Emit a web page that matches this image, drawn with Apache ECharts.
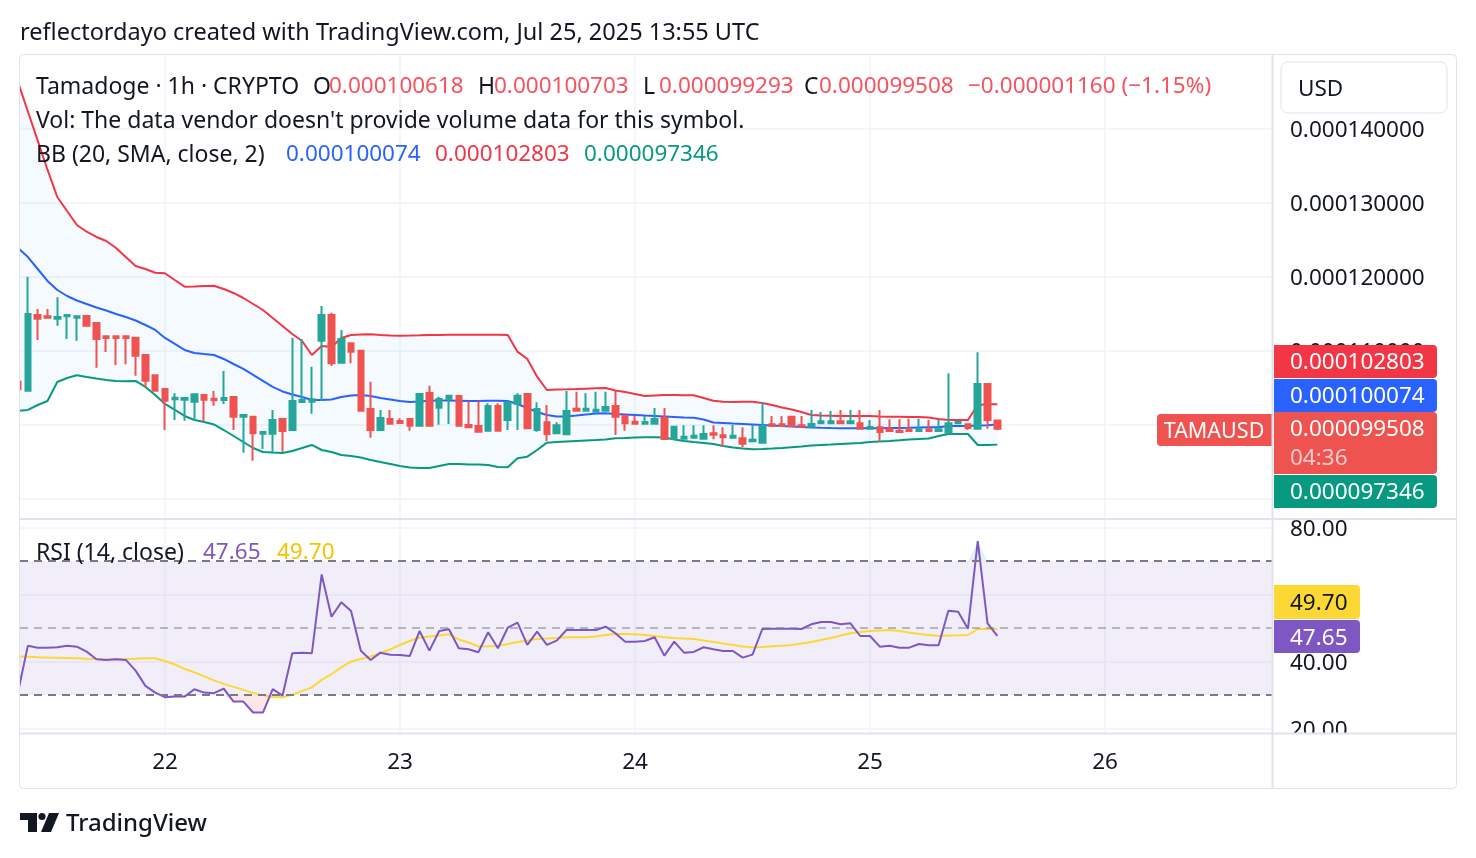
<!DOCTYPE html>
<html>
<head>
<meta charset="utf-8">
<title>TAMAUSD 1h</title>
<script src="https://cdn.jsdelivr.net/npm/echarts@6/dist/echarts.min.js"></script>
<style>
  html, body { margin: 0; padding: 0; background: #fff; }
  #chart { width: 1476px; height: 858px; }
</style>
</head>
<body>
<div id="chart"></div>
<script>
// one candle per hour, hour 0 = Jul 21 00:00 UTC; prices are in millionths of a USD
const firstHour = 9;

// [open, close, low, high]
const candles = [
  [105.85, 104.82, 104.82, 105.85], [104.64, 115.00, 104.64, 120.04], [114.86, 114.36, 111.49, 115.68],
  [114.69, 114.50, 114.50, 115.68], [114.36, 114.59, 113.42, 117.26], [114.69, 114.86, 111.62, 114.86],
  [114.50, 114.69, 111.39, 114.69], [114.73, 113.42, 113.42, 114.73], [113.78, 111.62, 107.74, 113.78],
  [111.99, 111.76, 109.86, 111.99], [111.99, 111.76, 108.11, 111.99], [111.99, 111.76, 108.20, 111.99],
  [111.80, 109.36, 106.66, 111.93], [109.46, 105.99, 105.18, 109.59], [106.72, 104.64, 104.64, 106.72],
  [104.86, 103.28, 99.32, 104.86], [103.47, 103.69, 100.68, 104.28], [103.42, 103.65, 100.58, 103.65],
  [103.15, 104.15, 100.58, 104.15], [104.05, 103.42, 100.45, 104.19], [103.55, 103.34, 102.61, 104.59],
  [103.38, 103.65, 102.84, 107.30], [103.78, 101.12, 99.32, 103.78], [101.12, 101.35, 96.26, 101.35],
  [101.12, 98.88, 95.18, 101.26], [98.82, 99.05, 96.76, 99.05], [98.82, 100.68, 96.39, 102.03],
  [100.81, 99.19, 96.39, 100.99], [99.32, 103.24, 99.23, 111.80], [103.11, 103.38, 103.11, 111.62],
  [103.15, 103.47, 101.53, 107.88], [111.39, 114.86, 103.24, 116.08], [114.86, 108.34, 107.97, 115.18],
  [108.42, 111.62, 108.42, 112.84], [111.04, 109.91, 108.34, 111.04], [110.04, 101.93, 101.93, 110.04],
  [102.16, 99.32, 98.28, 105.85], [99.32, 100.95, 99.32, 102.03], [100.81, 100.18, 100.18, 102.03],
  [100.54, 100.27, 100.27, 100.91], [100.81, 99.91, 99.23, 100.81], [99.91, 104.19, 99.91, 104.19],
  [104.32, 99.91, 99.91, 105.31], [102.34, 103.51, 100.04, 103.82], [103.55, 103.96, 100.14, 103.96],
  [103.92, 99.91, 99.91, 103.92], [100.00, 99.69, 99.69, 103.24], [99.86, 99.09, 99.09, 103.28],
  [99.23, 102.57, 99.23, 102.93], [102.57, 99.23, 99.23, 102.93], [100.68, 103.01, 99.32, 103.24],
  [102.88, 103.96, 99.32, 104.28], [104.19, 99.55, 99.55, 104.19], [99.32, 102.16, 99.09, 103.07],
  [100.36, 98.78, 97.84, 102.70], [98.88, 99.96, 98.78, 100.36], [98.74, 101.89, 98.74, 104.59],
  [102.20, 101.93, 101.93, 104.50], [101.93, 102.20, 101.93, 104.28], [101.80, 102.07, 101.80, 104.50],
  [101.93, 102.43, 101.93, 104.50], [102.57, 101.12, 98.65, 104.59], [101.26, 100.23, 99.23, 101.26],
  [100.45, 100.18, 100.18, 101.26], [100.18, 100.41, 100.18, 101.22], [100.18, 100.81, 100.18, 102.30],
  [100.99, 98.11, 98.11, 102.30], [98.11, 99.77, 98.11, 99.77], [98.15, 98.42, 98.15, 99.96],
  [98.28, 98.55, 98.28, 99.96], [98.15, 98.78, 98.15, 99.96], [98.88, 98.69, 98.07, 99.96],
  [98.61, 98.34, 97.07, 99.69], [98.28, 98.55, 98.28, 100.00], [98.20, 97.47, 96.99, 99.69],
  [97.80, 98.01, 97.80, 100.00], [97.61, 99.86, 97.61, 103.11], [100.09, 99.86, 99.86, 101.22],
  [100.09, 99.86, 99.86, 101.22], [101.12, 99.86, 99.86, 101.22], [99.96, 99.77, 99.77, 101.22],
  [99.77, 100.14, 99.77, 102.03], [100.23, 100.50, 100.23, 101.76], [100.23, 100.50, 100.23, 101.89],
  [100.50, 100.23, 100.23, 102.03], [100.23, 100.50, 100.23, 102.03], [100.23, 99.50, 99.50, 102.03],
  [99.50, 99.73, 99.50, 100.68], [99.69, 99.05, 97.74, 102.03], [99.42, 99.19, 99.19, 100.77],
  [99.23, 99.05, 99.05, 100.77], [99.42, 99.19, 99.19, 100.85], [99.19, 99.42, 99.19, 100.85],
  [99.42, 99.19, 99.19, 100.68], [99.19, 99.42, 99.19, 100.68], [98.96, 100.23, 98.96, 106.99],
  [100.23, 100.41, 100.23, 100.41], [100.09, 99.59, 99.32, 100.23], [99.50, 105.54, 99.50, 109.82],
  [105.54, 100.668, 99.50, 105.54], [100.618, 99.508, 99.293, 100.703]
];

const bbUpper = [
  146.30, 142.36, 138.43, 134.50, 130.81, 128.92, 127.03, 126.12, 125.41, 124.86, 123.92, 122.70,
  121.49, 121.08, 120.58, 120.50, 119.59, 118.69, 118.72, 118.78, 118.82, 118.38, 117.84, 117.16,
  116.35, 115.54, 114.46, 113.38, 112.30, 111.35, 109.46, 110.68, 110.54, 111.76, 112.16,
  112.23, 112.26, 112.16, 112.09, 112.07, 112.09, 112.12, 112.16, 112.16, 112.19, 112.19, 112.20,
  112.20, 112.20, 112.19, 112.16,
  109.91, 108.92, 106.53, 104.73, 104.80, 104.82, 104.86, 104.91, 104.96, 105.00, 104.66, 104.46,
  104.19, 103.92, 103.99, 104.05, 104.05, 104.01, 104.01, 103.65, 103.28, 103.15, 103.11, 103.14,
  103.15, 102.97, 102.70, 102.36, 102.09, 101.76, 101.35, 101.28, 101.26, 101.22, 101.22, 101.22,
  101.22, 101.15, 101.12, 101.11, 101.08, 101.08, 101.01, 100.81, 100.68, 100.68, 100.68, 102.70,
  102.80, 102.803
];
const bbBasis = [
  123.92, 122.70, 121.08, 119.46, 118.24, 117.43, 116.82, 116.35, 115.88, 115.47, 115.00, 114.59,
  114.12, 113.51, 112.84, 111.76, 110.95, 110.14, 109.73, 109.59, 109.46, 108.92, 108.24, 107.57,
  106.76, 105.95, 105.14, 104.53, 104.12, 103.78, 103.38, 103.38, 103.45, 103.78, 103.99,
  104.05, 103.92, 103.65, 103.45, 103.24, 103.11, 103.18, 103.28, 103.31, 103.31, 103.28, 103.24,
  103.24, 103.27, 103.27, 103.24,
  102.84, 102.30, 101.76, 101.35, 101.15, 101.15, 101.28, 101.42, 101.55, 101.58, 101.49, 101.42,
  101.35, 101.28, 101.22, 101.15, 101.08, 101.01, 100.99, 100.74, 100.34, 100.27, 100.20, 100.14,
  100.07, 100.00, 99.93, 99.86, 99.80, 99.73, 99.66, 99.62, 99.59, 99.57, 99.55, 99.55,
  99.55, 99.57, 99.59, 99.59, 99.62, 99.66, 99.69, 99.69, 99.86, 99.86, 99.86, 99.93,
  99.96, 100.074
];
const bbLower = [
  101.93, 102.03, 102.70, 103.24, 105.81, 106.35, 106.72, 106.49, 106.28, 106.08, 105.95, 105.91,
  105.95, 105.14, 104.05, 102.84, 102.03, 101.22, 100.68, 100.41, 100.07, 99.32, 98.51, 97.70,
  96.89, 96.35, 96.28, 96.22, 96.49, 96.89, 97.30, 96.62, 96.35, 95.95, 95.81,
  95.61, 95.27, 95.00, 94.73, 94.46, 94.26, 94.19, 94.19, 94.46, 94.73, 94.73, 94.66,
  94.66, 94.59, 94.32, 94.28,
  95.50, 95.72, 96.62, 97.61, 97.70, 97.77, 97.84, 97.91, 97.97, 98.04, 98.20, 98.24,
  98.31, 98.34, 98.34, 98.31, 98.04, 97.84, 97.70, 97.57, 97.43, 97.16, 96.96, 96.82,
  96.72, 96.76, 96.82, 96.89, 96.99, 97.09, 97.23, 97.30, 97.36, 97.43, 97.50, 97.57,
  97.70, 97.77, 97.84, 97.93, 98.04, 98.11, 98.18, 98.51, 98.78, 98.78, 98.78, 97.30,
  97.30, 97.346
];

const rsi = [
  31.00, 44.72, 44.12, 44.12, 44.24, 44.72, 44.42, 42.93, 40.66, 40.45, 40.66, 40.45,
  37.25, 32.69, 30.69, 29.31, 29.49, 29.49, 31.70, 30.69, 30.51, 31.88, 28.00, 28.00,
  24.72, 24.72, 31.70, 29.79, 42.45, 42.63, 42.45, 66.03, 53.37, 57.67, 55.07,
  43.22, 40.45, 42.63, 42.03, 41.94, 41.64, 49.10, 43.22, 49.10, 49.61, 43.94, 43.64,
  42.75, 48.72, 43.94, 50.09,
  51.58, 44.93, 48.90, 44.93, 46.21, 49.40, 49.40, 49.40, 49.40, 50.39, 48.42, 45.91,
  45.91, 46.12, 47.22, 41.73, 45.91, 42.63, 42.84, 44.24, 43.64, 43.13, 43.13, 41.13,
  42.03, 49.70, 49.79, 49.79, 49.79, 49.70, 51.10, 51.79, 51.79, 51.10, 51.40, 47.61,
  47.61, 44.42, 44.72, 44.12, 44.12, 45.22, 44.84, 44.84, 55.16, 54.87, 49.79, 75.97,
  51.40, 47.65
];
const rsiMa = [
  41.49, 41.40, 41.28, 41.19, 41.13, 41.04, 40.96, 40.84, 40.75, 40.69, 40.66, 40.75,
  40.84, 40.96, 40.96, 40.15, 39.10, 37.76, 36.72, 35.52, 34.33, 33.28, 32.39, 31.49,
  30.60, 29.85, 29.40, 29.31, 30.00, 31.19, 32.24, 34.48, 36.18, 38.21, 40.00,
  40.75, 41.49, 42.54, 43.58, 44.93, 46.12, 47.16, 47.46, 47.76, 48.12, 46.57, 45.67,
  44.48, 44.54, 44.63, 45.22,
  45.82, 46.27, 46.72, 46.87, 47.01, 47.22, 47.22, 47.22, 47.46, 47.91, 48.21, 48.21,
  48.12, 47.91, 47.61, 47.25, 47.01, 46.87, 46.72, 46.27, 45.82, 45.37, 44.93, 44.48,
  44.18, 44.33, 44.54, 44.72, 44.93, 45.37, 45.82, 46.42, 47.01, 47.76, 48.42, 48.81,
  49.10, 49.25, 49.40, 49.10, 48.66, 48.21, 47.91, 47.61, 47.76, 47.82, 47.91, 49.70,
  49.70, 49.70
];

const dayTicks = [24, 48, 72, 96, 120];
const dayLabels = ['22', '23', '24', '25', '26'];
const priceTicks = [90, 100, 110, 120, 130, 140];
const rsiTicks = [20, 40, 60, 80];
const rsiLevels = { upper: 70, middle: 50, lower: 30 };

const FONT = '"Noto Sans", sans-serif';
const TEXT = '#131722';
const UP = '#26a69a';
const DOWN = '#ef5350';
const GRID = '#f0f3fa';
const BORDER = '#e0e3eb';

const xs = candles.map((_, i) => firstHour + i);
const pair = arr => arr.map((v, i) => [xs[i], v]);
const last = arr => arr[arr.length - 1];
const fmtPrice = v => (v / 1e6).toFixed(9);

const lastBar = last(candles);
const prevClose = candles[candles.length - 2][1];
const change = lastBar[1] - prevClose;
const changeText = '\u2212' + fmtPrice(Math.abs(change)) + ' (\u2212' + Math.abs(change / prevClose * 100).toFixed(2) + '%)';

const chart = echarts.init(document.getElementById('chart'), null, { renderer: 'canvas' });

const lineSeries = (name, data, color, ai, z) => ({
  name, type: 'line', xAxisIndex: ai, yAxisIndex: ai, data,
  showSymbol: false, symbol: 'none', silent: true, z,
  lineStyle: { color, width: 2 }
});

// filled polygon between two value rows, placed through the axes
const bandSeries = (upper, lower, fill, ai, z) => ({
  type: 'custom', xAxisIndex: ai, yAxisIndex: ai, silent: true, clip: true, z,
  data: [[xs[0], upper[0]]],
  renderItem: (params, api) => {
    const top = upper.map((v, i) => api.coord([xs[i], v]));
    const bottom = lower.map((v, i) => api.coord([xs[i], v])).reverse();
    return { type: 'polygon', shape: { points: top.concat(bottom) }, style: { fill } };
  }
});

// text + box helpers for the legend, tags and frame (y is the visual middle of the text)
const txt = (x, y, text, fill, size, extra) => ({
  type: 'text', x, y: y + 2, z: 120, silent: true,
  style: Object.assign({ text, fill: fill || TEXT, font: (size || 23) + 'px ' + FONT, verticalAlign: 'middle', align: 'left' }, extra || {})
});
const box = (x, y, w, h, fill, r, extra) => ({
  type: 'rect', z: 110, silent: true,
  shape: { x, y, width: w, height: h, r: r || 0 },
  style: Object.assign({ fill }, extra || {})
});
const seg = (x1, y1, x2, y2, color, w) => ({
  type: 'line', z: 115, silent: true,
  shape: { x1, y1, x2, y2 },
  style: { stroke: color || BORDER, lineWidth: w || 1 }
});

const red = '#f7525f';
const priceTags = [
  { text: fmtPrice(last(bbUpper)), color: '#f23645', top: 345, h: 33 },
  { text: fmtPrice(last(bbBasis)), color: '#2962ff', top: 379, h: 33 },
  { text: fmtPrice(lastBar[1]), color: '#ef5350', top: 412, h: 62 },
  { text: fmtPrice(last(bbLower)), color: '#089981', top: 475, h: 33 }
];

const graphics = [
  // hide what sticks out on the left of the plot and under the time scale
  box(0, 55, 19, 464, '#fff'),
  box(1273, 734, 182, 53, '#fff'),
  // frame
  box(19.5, 54.5, 1437, 734, 'none', 4, { stroke: BORDER, lineWidth: 1 }),
  seg(1272.5, 55, 1272.5, 788, BORDER, 2),
  seg(20, 519, 1456, 519, BORDER, 2),
  seg(20, 733.5, 1456, 733.5, BORDER, 2),
  // header
  txt(20, 31, 'reflectordayo created with TradingView.com, Jul 25, 2025 13:55 UTC', TEXT, 23.5),
  // legend
  txt(36, 85, 'Tamadoge \u00b7 1h \u00b7 CRYPTO'),
  txt(313, 85, 'O'), txt(329, 85, fmtPrice(lastBar[0]), red, 22.5),
  txt(478, 85, 'H'), txt(494, 85, fmtPrice(lastBar[3]), red, 22.5),
  txt(643, 85, 'L'), txt(659, 85, fmtPrice(lastBar[2]), red, 22.5),
  txt(804, 85, 'C'), txt(819, 85, fmtPrice(lastBar[1]), red, 22.5),
  txt(968, 85, changeText, red, 22.5),
  txt(36, 119, "Vol: The data vendor doesn't provide volume data for this symbol."),
  txt(36, 153, 'BB (20, SMA, close, 2)'),
  txt(286, 153, fmtPrice(last(bbBasis)), '#2962ff', 22.5),
  txt(435, 153, fmtPrice(last(bbUpper)), '#f23645', 22.5),
  txt(584, 153, fmtPrice(last(bbLower)), '#089981', 22.5),
  txt(36, 551, 'RSI (14, close)'),
  txt(203, 551, last(rsi).toFixed(2), '#7e57c2', 22.5),
  txt(277, 551, last(rsiMa).toFixed(2), '#f5c400', 22.5),
  // currency button
  box(1281, 62, 166, 51, '#fff', 7, { stroke: BORDER, lineWidth: 1 }),
  txt(1298, 88, 'USD', TEXT, 22.5),
  // symbol label
  box(1157, 414, 115, 32, '#ef5350', [4, 0, 0, 4]),
  txt(1214, 430, 'TAMAUSD', '#fff', 21.5, { align: 'center' }),
  // RSI tags
  box(1274, 585, 86, 34, '#fdd835', [0, 4, 4, 0]),
  txt(1290, 602, last(rsiMa).toFixed(2), TEXT, 22.5),
  box(1274, 620, 86, 33, '#7e57c2', [0, 4, 4, 0]),
  txt(1290, 637, last(rsi).toFixed(2), '#fff', 22.5),
  // TradingView logo
  box(20, 813, 17, 7, TEXT), box(28, 813, 9, 19, TEXT),
  { type: 'circle', z: 110, silent: true, shape: { cx: 42, cy: 816.5, r: 3.6 }, style: { fill: TEXT } },
  { type: 'polygon', z: 110, silent: true, shape: { points: [[49, 813], [59, 813], [51, 832], [41, 832]] }, style: { fill: TEXT } },
  txt(66, 822, 'TradingView', TEXT, 24, { font: '500 24px ' + FONT })
];
priceTags.forEach(t => {
  graphics.push(box(1274, t.top, 163, t.h, t.color, [0, 4, 4, 0]));
  graphics.push(txt(1290, t.top + 16, t.text, '#fff', 22.5));
});
graphics.push(txt(1290, 457, '04:36', 'rgba(255,255,255,0.7)', 22.5));

const axisText = { color: TEXT, fontSize: 22.5, fontFamily: FONT };
// price scale labels sit a couple of pixels below their grid line
const scaleText = Object.assign({ verticalAlign: 'top', lineHeight: 4, margin: 18 }, axisText);

const option = {
  animation: false,
  backgroundColor: '#fff',
  grid: [
    { left: 20, top: 55, width: 1252, height: 463, outerBoundsMode: 'none' },
    { left: 20, top: 520, width: 1252, height: 213, outerBoundsMode: 'none' }
  ],
  xAxis: [0, 1].map(i => ({
    type: 'value', gridIndex: i, min: 9.192, max: 137.05,
    axisLine: { show: false },
    axisTick: { show: false, customValues: dayTicks },
    splitLine: { show: true, lineStyle: { color: GRID, width: 1.5 } },
    axisLabel: i === 1 ? Object.assign({
      show: true, customValues: dayTicks,
      formatter: v => dayLabels[dayTicks.indexOf(v)], margin: 18
    }, axisText) : { show: false }
  })),
  yAxis: [
    {
      type: 'value', gridIndex: 0, position: 'right', min: 87.43, max: 150,
      axisLine: { show: false },
      axisTick: { show: false, customValues: priceTicks },
      splitLine: { show: true, lineStyle: { color: GRID, width: 1.5 } },
      axisLabel: Object.assign({ customValues: priceTicks, formatter: v => fmtPrice(v) }, scaleText)
    },
    {
      type: 'value', gridIndex: 1, position: 'right', min: 18.6, max: 82.3,
      axisLine: { show: false },
      axisTick: { show: false, customValues: rsiTicks },
      splitLine: { show: true, lineStyle: { color: GRID, width: 1.5 } },
      axisLabel: Object.assign({ customValues: rsiTicks, formatter: v => v.toFixed(2) }, scaleText)
    }
  ],
  series: [
    // Bollinger bands
    bandSeries(bbUpper, bbLower, 'rgba(33,150,243,0.05)', 0, 1),
    lineSeries('Upper', pair(bbUpper), '#f23645', 0, 3),
    lineSeries('Basis', pair(bbBasis), '#2962ff', 0, 3),
    lineSeries('Lower', pair(bbLower), '#089981', 0, 3),
    {
      name: 'TAMAUSD', type: 'candlestick', xAxisIndex: 0, yAxisIndex: 0,
      data: candles.map((c, i) => [xs[i], c[0], c[1], c[2], c[3]]),
      encode: { x: 0, y: [1, 2, 3, 4] },
      barWidth: 6, clip: true, silent: true, z: 5,
      itemStyle: { color: UP, color0: DOWN, borderColor: UP, borderColor0: DOWN, borderWidth: 2 }
    },
    // RSI pane: oversold / overbought zones
    bandSeries(rsi.map(() => rsiLevels.lower), rsi.map(v => Math.min(v, rsiLevels.lower)), 'rgba(242,54,69,0.12)', 1, 2),
    bandSeries(rsi.map(v => Math.max(v, rsiLevels.upper)), rsi.map(() => rsiLevels.upper), 'rgba(8,153,129,0.12)', 1, 2),
    Object.assign(lineSeries('RSI-based MA', pair(rsiMa), '#fdd835', 1, 3), {
      markArea: {
        silent: true,
        itemStyle: { color: 'rgba(126,87,194,0.1)' },
        data: [[{ yAxis: rsiLevels.lower }, { yAxis: rsiLevels.upper }]]
      },
      markLine: {
        silent: true, symbol: ['none', 'none'], label: { show: false },
        lineStyle: { color: '#787b86', type: [8, 6], width: 2 },
        data: [
          { yAxis: rsiLevels.upper },
          { yAxis: rsiLevels.middle, lineStyle: { color: 'rgba(120,123,134,0.5)', type: [8, 6], width: 2 } },
          { yAxis: rsiLevels.lower }
        ]
      }
    }),
    lineSeries('RSI', pair(rsi), '#7e57c2', 1, 4)
  ],
  graphic: graphics
};

chart.setOption(option);
</script>
</body>
</html>
